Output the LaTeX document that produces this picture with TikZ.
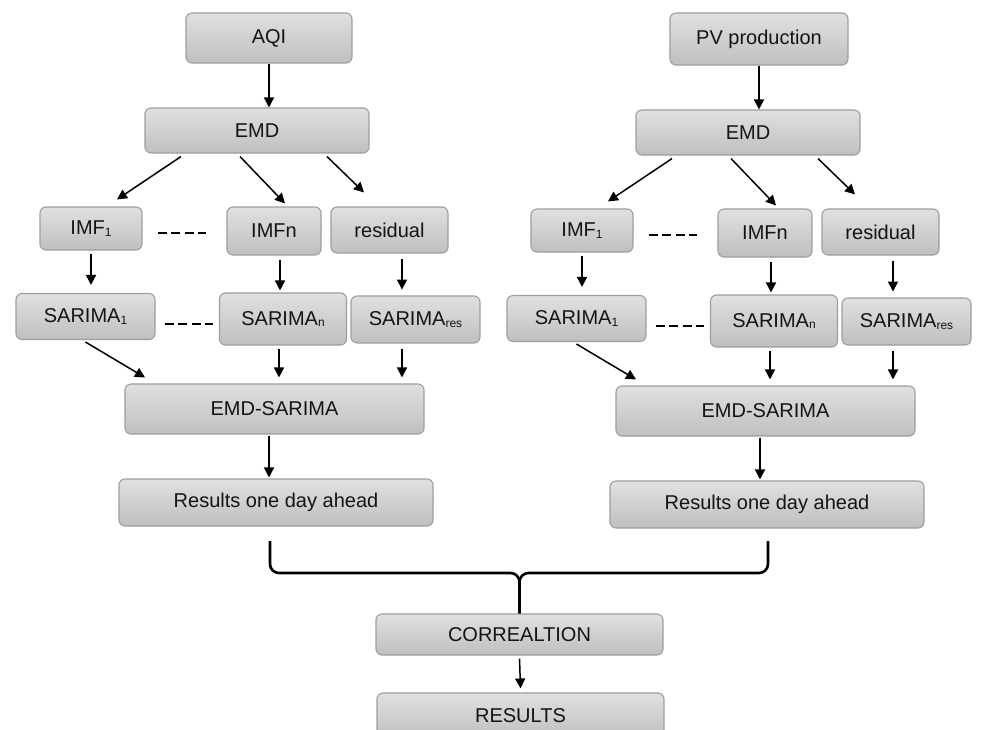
\documentclass[tikz,border=0pt]{standalone}
\usepackage{fontspec}
\setmainfont{Liberation Sans}
\usetikzlibrary{arrows.meta,calc}
\definecolor{boxline}{gray}{0.62}
\definecolor{boxtop}{gray}{0.88}
\definecolor{boxbot}{gray}{0.75}
\definecolor{ink}{gray}{0.08}
\newcommand{\lowsub}[1]{\raisebox{-1.5pt}{\fontsize{12}{12}\selectfont #1}}
\tikzset{stage/.style={draw=boxline,line width=1.1pt,rounded corners=6pt,
           top color=boxtop,bottom color=boxbot,text=ink,inner sep=0pt},
         flow/.style={line width=1.5pt,-{Triangle[length=10pt,width=10pt]}},
         gap/.style={line width=2.8pt,dash pattern=on 9pt off 4.6pt},
         brace/.style={line width=2.6pt,rounded corners=9pt}}

\begin{document}
\begin{tikzpicture}[x=1pt,y=-1pt,font=\fontsize{20}{24}\selectfont]
  \useasboundingbox[fill=white] (0,0) rectangle (981,729);
  \node[stage,minimum width=166,minimum height=50] (L-src) at (269,38) {AQI};
  \node[stage,minimum width=178,minimum height=52] (R-src) at (759,39) {PV production};
  \foreach \s/\dx/\dy in {L/0/0,R/491/2}{
    \begin{scope}[shift={(\dx,\dy)}]
      \node[stage,minimum width=224,minimum height=45] (\s-emd) at (257,130.5) {EMD};
      \node[stage,minimum width=102,minimum height=43] (\s-imf1) at (91,228.5) {IMF\lowsub{1}};
      \node[stage,minimum width=94,minimum height=48] (\s-imfn) at (274,231) {IMFn};
      \node[stage,minimum width=117,minimum height=46] (\s-res) at (389.5,230) {residual};
      \node[stage,minimum width=139,minimum height=46] (\s-sar1) at (85.5,316.5) {SARIMA\lowsub{1}};
      \node[stage,minimum width=127,minimum height=52] (\s-sarn) at (283,319) {SARIMA\lowsub{n}};
      \node[stage,minimum width=129,minimum height=47] (\s-sarres) at (415.5,319.5) {SARIMA\lowsub{res}};
      \node[stage,minimum width=299,minimum height=50] (\s-emdsar) at (274.5,409) {EMD-SARIMA};
      \node[stage,minimum width=314,minimum height=47] (\s-resd) at (276,502.5) {Results one day ahead};
    \end{scope}
    \draw[flow] (\s-src.south) -- (\s-src.south |- \s-emd.north);
    \draw[flow] ($(\s-emd.south)+(-76,3)$) -- ($(\s-imf1.north)+(26,-7)$);
    \draw[flow] ($(\s-emd.south)+(-17,3)$) -- ($(\s-imfn.north)+(11,-3)$);
    \draw[flow] ($(\s-emd.south)+(70,3)$) -- ($(\s-res.north)+(-25.5,-14)$);
    \draw[gap] ($(\s-imf1.east)+(15,4.5)$) -- ($(\s-imfn.west)+(-20,2)$);
    \draw[flow] ($(\s-imf1.south)+(0,3)$) -- ($(\s-imf1.south |- \s-sar1.north)+(0,-8)$);
    \draw[flow] ($(\s-sarn.north)+(-3,-32)$) -- ($(\s-sarn.north)+(-3,-2)$);
    \draw[flow] ($(\s-res.south)+(12.5,5)$) -- ($(\s-res.south)+(12.5,36)$);
    \draw[gap] ($(\s-sar1.east)+(9,7.5)$) -- ($(\s-sarn.west)+(-5.5,5)$);
    \draw[flow] ($(\s-sar1.south)+(0,2)$) -- ($(\s-emdsar.north)+(-129.5,-6)$);
    \draw[flow] ($(\s-sarn.south)+(-4,3)$) -- ($(\s-emdsar.north)+(4.5,-6)$);
    \draw[flow] ($(\s-sarres.south)+(-13.5,5)$) -- ($(\s-emdsar.north)+(127.5,-6)$);
    \draw[flow] ($(\s-emdsar.south)+(-5.5,1)$) -- ($(\s-resd.north)+(-7,-1)$);
  }
  \node[stage,minimum width=287,minimum height=41] (corr) at (519.5,634.5) {CORREALTION};
  \node[stage,minimum width=287,minimum height=45] (final) at (520.5,715.5) {RESULTS};
  \draw[flow] ($(corr.south)+(0,3)$) -- ($(final.north)+(0,-4)$);
  % brace joining both forecasts
  \coordinate (L-br) at (270,541);
  \coordinate (R-br) at (768,541);
  \draw[brace] (L-br) |- (corr.north |- 0,573) -- (corr.north);
  \draw[brace] (R-br) |- (corr.north |- 0,573) -- (corr.north);
\end{tikzpicture}
\end{document}
